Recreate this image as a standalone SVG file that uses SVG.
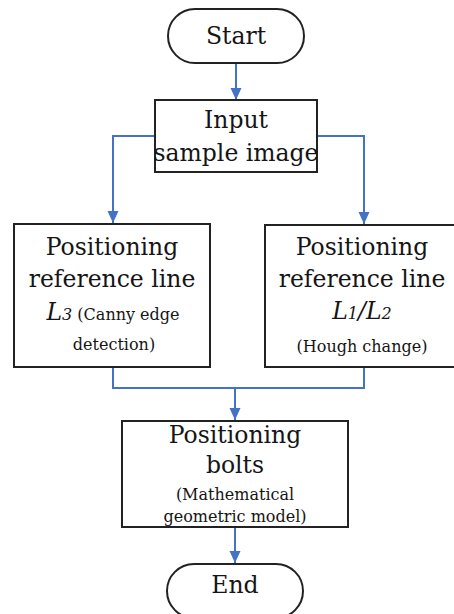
<svg xmlns="http://www.w3.org/2000/svg" width="454" height="614" viewBox="0 0 454 614">
  <style>
    .box { fill: #ffffff; stroke: #222222; stroke-width: 2; }
    .link { fill: none; stroke: #4472c4; stroke-width: 2; }
    text { font-family: "DejaVu Serif", "Liberation Serif", serif; fill: #151515; text-anchor: middle; }
    .big { font-size: 23.5px; }
    .small { font-size: 16px; }
    .it { font-style: italic; }
  </style>
  <defs>
    <marker id="arrow" viewBox="0 0 12 12" refX="12" refY="6" markerWidth="12" markerHeight="12" markerUnits="userSpaceOnUse" orient="auto">
      <path d="M0,0.5 L12,6 L0,11.5 Z" fill="#4472c4"/>
    </marker>
  </defs>
  <rect width="454" height="614" fill="#ffffff"/>

  <!-- connectors -->
  <g id="connectors">
    <path class="link" d="M236,63 V100" marker-end="url(#arrow)"/>
    <path class="link" d="M155,136 H113 V223" marker-end="url(#arrow)"/>
    <path class="link" d="M317,136 H364 V224" marker-end="url(#arrow)"/>
    <path class="link" d="M113,367 V388 H364 V367"/>
    <path class="link" d="M235,388 V420" marker-end="url(#arrow)"/>
    <path class="link" d="M235,527 V563" marker-end="url(#arrow)"/>
  </g>

  <g id="start">
    <rect class="box" x="168" y="9" width="136" height="54" rx="27"/>
    <text class="big" x="236" y="44">Start</text>
  </g>

  <g id="input">
    <rect class="box" x="155" y="100" width="162" height="72"/>
    <text class="big" x="236" y="128">Input</text>
    <text class="big" x="236" y="161">sample image</text>
  </g>

  <g id="canny">
    <rect class="box" x="14" y="224" width="196" height="143"/>
    <text class="big" x="112" y="255">Positioning</text>
    <text class="big" x="112" y="287">reference line</text>
    <text x="113" y="320"><tspan class="big it">L</tspan><tspan class="small it">3</tspan><tspan class="small"> (Canny edge</tspan></text>
    <text class="small" x="114" y="350">detection)</text>
  </g>

  <g id="hough">
    <rect class="box" x="265" y="225" width="194" height="142"/>
    <text class="big" x="362" y="255">Positioning</text>
    <text class="big" x="362" y="287">reference line</text>
    <text x="362" y="319"><tspan class="big it">L</tspan><tspan class="small it">1</tspan><tspan class="big it">/L</tspan><tspan class="small it">2</tspan></text>
    <text class="small" x="362" y="352">(Hough change)</text>
  </g>

  <g id="bolts">
    <rect class="box" x="122" y="421" width="226" height="106"/>
    <text class="big" x="235" y="443">Positioning</text>
    <text class="big" x="235" y="473">bolts</text>
    <text class="small" x="235" y="500">(Mathematical</text>
    <text class="small" x="235" y="522">geometric model)</text>
  </g>

  <g id="end">
    <rect class="box" x="167" y="564" width="136" height="54" rx="27"/>
    <text class="big" x="235" y="593">End</text>
  </g>
</svg>
